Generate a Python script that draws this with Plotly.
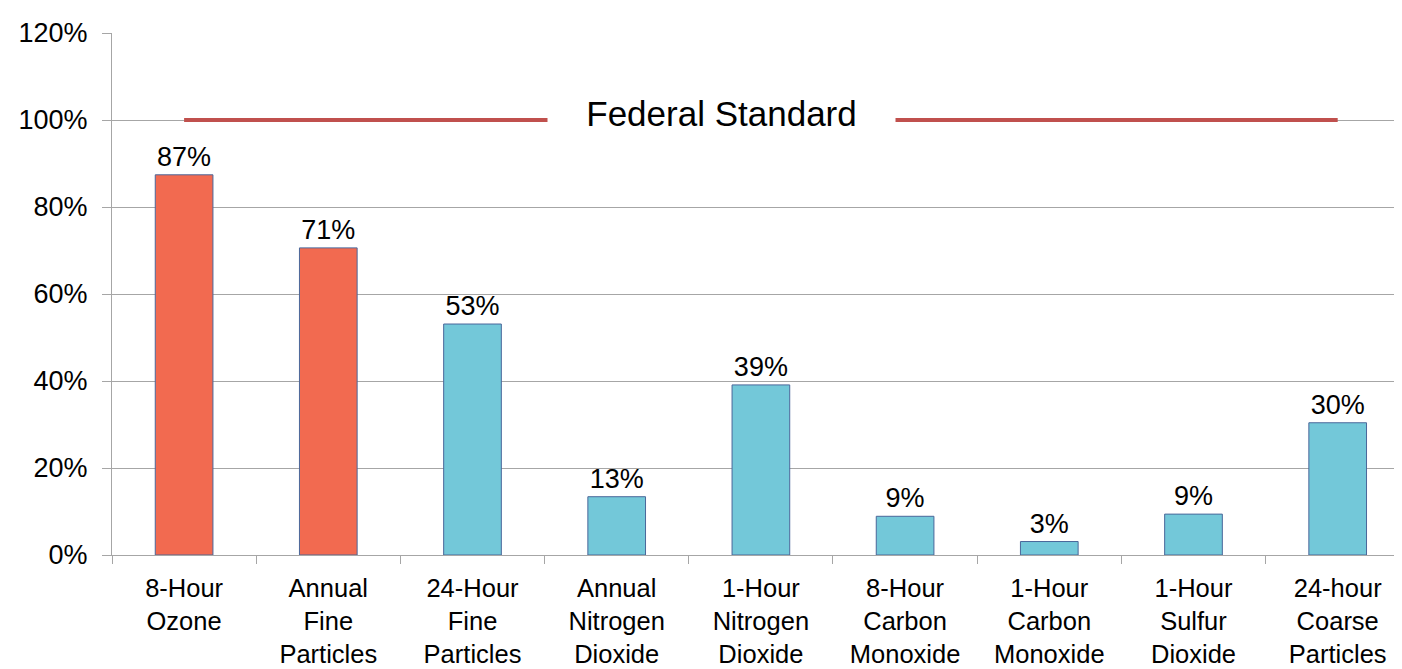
import plotly.graph_objects as go

categories = [
    "8-Hour<br>Ozone",
    "Annual<br>Fine<br>Particles",
    "24-Hour<br>Fine<br>Particles",
    "Annual<br>Nitrogen<br>Dioxide",
    "1-Hour<br>Nitrogen<br>Dioxide",
    "8-Hour<br>Carbon<br>Monoxide",
    "1-Hour<br>Carbon<br>Monoxide",
    "1-Hour<br>Sulfur<br>Dioxide",
    "24-hour<br>Coarse<br>Particles",
]
values = [87.4, 70.6, 53.1, 13.4, 39.1, 8.9, 3.1, 9.4, 30.4]
bar_colors = ["#F26A50", "#F26A50", "#73C8D9", "#73C8D9", "#73C8D9",
              "#73C8D9", "#73C8D9", "#73C8D9", "#73C8D9"]
standard_level = 100
standard_label = "Federal Standard"
y_ticks = [0, 20, 40, 60, 80, 100, 120]

FONT = "Liberation Sans, Arial, sans-serif"

fig = go.Figure()
fig.add_trace(go.Bar(
    x=categories,
    y=values,
    width=0.4,
    marker=dict(color=bar_colors, line=dict(color="#4A679A", width=1)),
    text=values,
    texttemplate="%{y:.0f}%",
    textposition="outside",
    textfont=dict(family=FONT, size=27, color="#000000"),
    constraintext="none",
    cliponaxis=False,
    hoverinfo="skip",
))
fig.add_trace(go.Scatter(
    x=[categories[0], categories[-1]],
    y=[standard_level, standard_level],
    mode="lines",
    line=dict(color="#C0504D", width=4),
    hoverinfo="skip",
))
fig.add_annotation(
    x=3.727, y=standard_level, xref="x", yref="y",
    text=standard_label,
    showarrow=False,
    font=dict(family=FONT, size=35, color="#000000"),
    bgcolor="#FFFFFF",
    width=345, height=46,
    yshift=7,
)

fig.update_layout(
    width=1402, height=669,
    margin=dict(l=104, r=8, t=25, b=122),
    paper_bgcolor="#FFFFFF",
    plot_bgcolor="#FFFFFF",
    showlegend=False,
    bargap=0.6,
)
fig.update_xaxes(
    range=[-0.5, 8.446],
    showline=True, linecolor="#A6A6A6", linewidth=1,
    ticks="outside", tickson="boundaries", ticklen=8, tickcolor="#A6A6A6",
    ticklabelstandoff=10,
    tickfont=dict(family=FONT, size=25.5, color="#000000"),
    showgrid=False,
    tickangle=0,
)
fig.update_yaxes(
    range=[0, 120],
    tickvals=y_ticks,
    ticktext=[f"{v}%" for v in y_ticks],
    showline=True, linecolor="#A6A6A6", linewidth=1,
    ticks="outside", ticklen=9, tickcolor="#A6A6A6",
    ticklabelstandoff=9,
    tickfont=dict(family=FONT, size=27, color="#000000"),
    showgrid=True, gridcolor="#A6A6A6", gridwidth=1,
    zeroline=False,
)

fig.write_html("out.html")
